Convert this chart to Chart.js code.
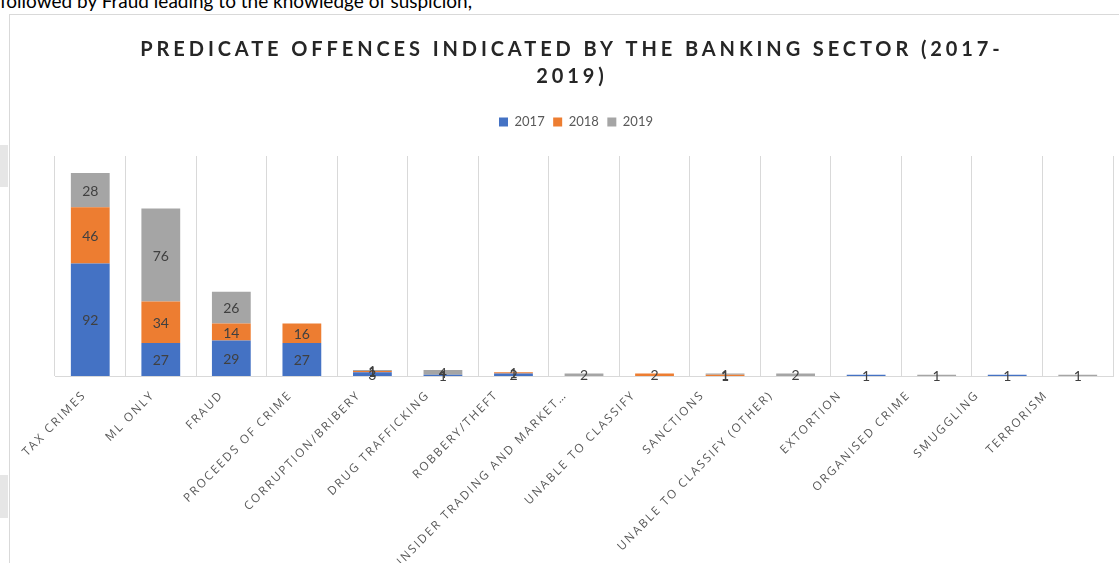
<!DOCTYPE html>
<html>
<head>
<meta charset="utf-8">
<script src="https://cdn.jsdelivr.net/npm/chart.js@4/dist/chart.umd.min.js"></script>
<style>
  html, body { margin: 0; padding: 0; background: #fff; overflow: hidden; }
  body { width: 1119px; height: 563px; position: relative; }
  .lead { position: absolute; left: 0; top: -9px; font: 19px Lato, sans-serif; line-height: 19px; color: #000; white-space: nowrap; }
  .side { position: absolute; left: 0; width: 8px; background: #e6e6e6; }
  .box { position: absolute; left: 9px; top: 14px; width: 1120px; height: 560px; border: 1px solid #d9d9d9; }
  .box canvas { position: absolute; left: 0; top: 0; }
</style>
</head>
<body>
<div class="lead">followed by Fraud leading to the knowledge of suspicion,</div>
<div class="side" style="top:145px;height:42px"></div>
<div class="side" style="top:475px;height:43px"></div>
<div class="box"><canvas id="chart" width="1109" height="548" style="width:1109px;height:548px"></canvas></div>
<script>
const categories = [
    'TAX CRIMES', 'ML ONLY', 'FRAUD', 'PROCEEDS OF CRIME', 'CORRUPTION/BRIBERY',
    'DRUG TRAFFICKING', 'ROBBERY/THEFT', 'INSIDER TRADING AND MARKET…', 'UNABLE TO CLASSIFY',
    'SANCTIONS', 'UNABLE TO CLASSIFY (OTHER)', 'EXTORTION', 'ORGANISED CRIME', 'SMUGGLING', 'TERRORISM'
];
const years = ['2017', '2018', '2019'];
const values2017 = [92, 27, 29, 27, 3, 1, 2, 0, 0, 0, 0, 1, 0, 1, 0];
const values2018 = [46, 34, 14, 16, 1, 0, 1, 0, 2, 1, 0, 0, 0, 0, 0];
const values2019 = [28, 76, 26, 0, 1, 4, 0, 2, 0, 1, 2, 0, 1, 0, 1];
const yMax = 180;

const colors = ['#4472C4', '#ED7D31', '#A5A5A5'];

// small drawing tweaks: letter spacing, a little shift, tighter label pitch
const tweaks = {
    id: 'tweaks',
    beforeLayout(chart) {
        const lg = chart.legend;
        if (lg && !lg._fitWrapped) {
            const fit = lg.fit;
            lg.fit = function () { fit.call(this); this.height += 17.5; };
            lg._fitWrapped = true;
        }
    },
    beforeDraw(chart) {
        const wrap = (obj, key, opt) => {
            if (obj['_sp_' + key]) return;
            const orig = obj[key];
            obj[key] = function (...args) {
                const c = chart.ctx;
                c.save();
                if (opt.spacing) c.letterSpacing = opt.spacing;
                c.translate(opt.dx || 0, opt.dy || 0);
                if (opt.s) c.scale(opt.s, 1);
                orig.apply(this, args);
                c.restore();
            };
            obj['_sp_' + key] = true;
        };
        wrap(chart.titleBlock, 'draw', { spacing: '3.9px', dx: -12 });
        wrap(chart.legend, 'draw', { dx: -8 });
        wrap(chart.scales.x, 'drawLabels', { spacing: '2px', dx: -4, s: 0.974 });
    }
};

// value labels in the middle of each segment
const segmentLabels = {
    id: 'segmentLabels',
    afterDatasetsDraw(chart) {
        const ctx = chart.ctx;
        ctx.save();
        ctx.font = '14px Lato, sans-serif';
        ctx.fillStyle = '#404040';
        ctx.textAlign = 'center';
        ctx.textBaseline = 'middle';
        chart.data.datasets.forEach((ds, i) => {
            chart.getDatasetMeta(i).data.forEach((bar, j) => {
                const v = ds.data[j];
                if (!v) return;
                ctx.fillText(String(v), bar.x, (bar.y + bar.base) / 2 + 1);
            });
        });
        ctx.restore();
    }
};

new Chart(document.getElementById('chart').getContext('2d'), {
    type: 'bar',
    data: {
        labels: categories,
        datasets: [values2017, values2018, values2019].map((d, i) => ({
            label: years[i],
            data: d,
            backgroundColor: colors[i],
            borderWidth: 0,
            barPercentage: 0.55,
            categoryPercentage: 1
        }))
    },
    options: {
        responsive: false,
        animation: false,
        layout: { padding: { left: 45, right: 6, top: 0, bottom: 0 } },
        plugins: {
            title: {
                display: true,
                text: ['PREDICATE OFFENCES INDICATED BY THE BANKING SECTOR (2017-', '2019)'],
                color: '#262626',
                font: { family: 'Lato', size: 20, weight: 'bold', lineHeight: 1.35 },
                padding: { top: 21.5, bottom: 16.5 }
            },
            legend: {
                position: 'top',
                labels: {
                    boxWidth: 9,
                    boxHeight: 9,
                    color: '#595959',
                    font: { family: 'Lato', size: 13 },
                    padding: 8.5
                }
            },
            tooltip: { enabled: false }
        },
        scales: {
            x: {
                stacked: true,
                grid: { color: '#d9d9d9', drawTicks: false, offset: true },
                border: { color: '#d9d9d9' },
                ticks: {
                    autoSkip: false,
                    maxRotation: 45,
                    minRotation: 45,
                    padding: 12,
                    color: '#595959',
                    font: { family: 'Open Sans', size: 12 }
                },
                afterFit(scale) { scale.height = 187; }
            },
            y: {
                stacked: true,
                display: false,
                min: 0,
                max: yMax
            }
        }
    },
    plugins: [tweaks, segmentLabels]
});
</script>
</body>
</html>
